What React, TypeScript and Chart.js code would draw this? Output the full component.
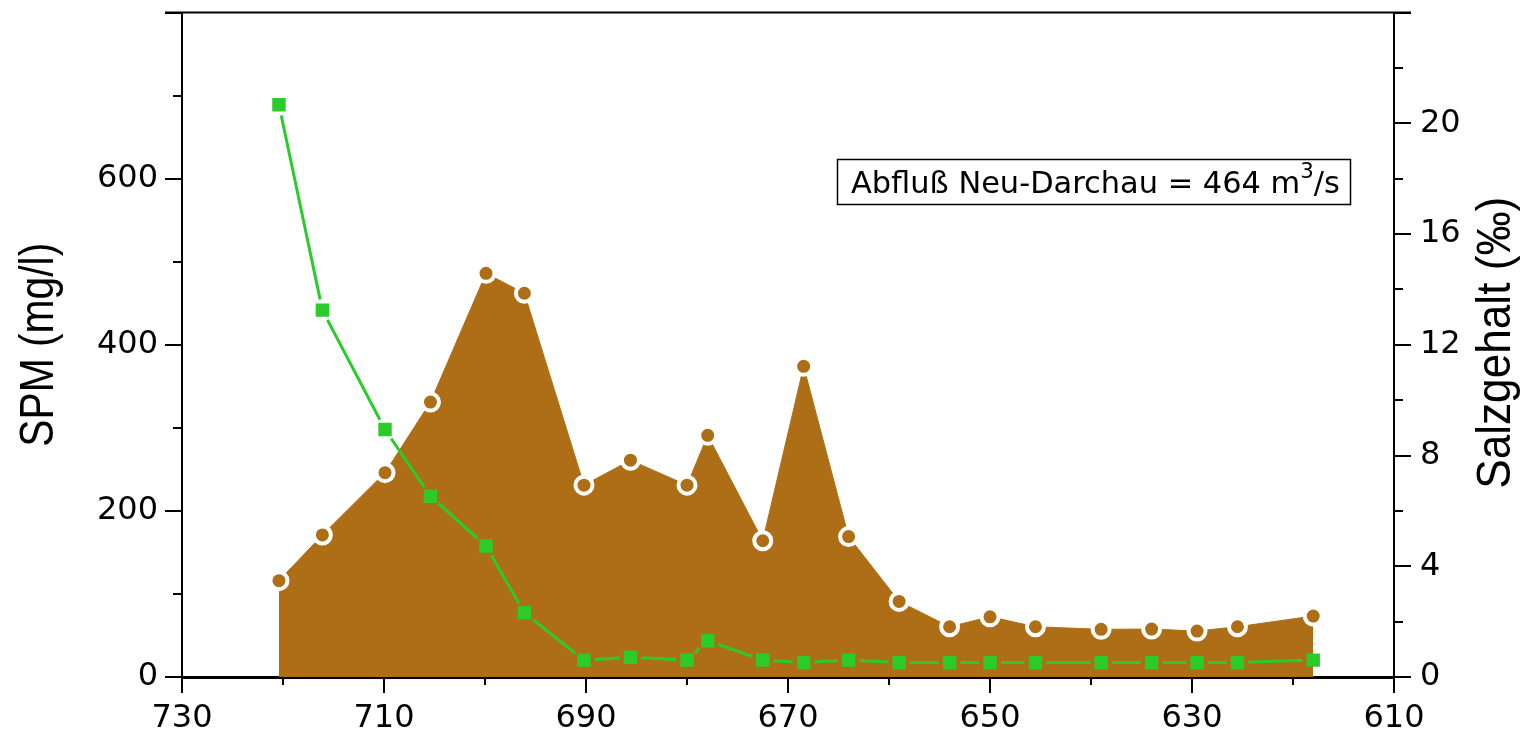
import React, { useEffect, useRef } from 'react';
import { Chart, registerables } from 'chart.js';

Chart.register(...registerables);

// Elbe-Kilometer (x), SPM (mg/l, left axis), Salzgehalt (‰, right axis)
const km = [720.4, 716.1, 709.9, 705.4, 699.9, 696.1, 690.2, 685.6, 680.0, 677.95, 672.5, 668.45, 664.0, 659.0, 654.0, 650.0, 645.5, 639.0, 634.0, 629.5, 625.5, 618.0];
const spm = [116, 171, 246, 331, 486, 462, 231, 261, 231, 291, 164, 374, 169, 91, 60.5, 72.5, 60.5, 57.4, 57.7, 55.3, 60.5, 73.4];
const salinity = [20.67, 13.25, 8.94, 6.53, 4.73, 2.32, 0.61, 0.71, 0.61, 1.31, 0.61, 0.52, 0.61, 0.52, 0.52, 0.52, 0.52, 0.52, 0.52, 0.52, 0.52, 0.61];

const xTickLabels = [730, 710, 690, 670, 650, 630, 610];
const leftTickLabels = [0, 200, 400, 600];
const rightTickLabels = [0, 4, 8, 12, 16, 20];

const leftTitle = 'SPM (mg/l)';
const rightTitle = 'Salzgehalt (‰)';
const noteMain = 'Abfluß Neu-Darchau = 464 m';
const noteSup = '3';
const noteEnd = '/s';

const BROWN = '#AE6E16';
const GREEN = '#2BCB2B';
const TICK_FONT = '"DejaVu Sans", sans-serif';
const TITLE_FONT = '"Liberation Sans", sans-serif';

const decorPlugin = {
  id: 'decor',
  beforeDatasetDraw(chart: any, args: any) {
    const ds = chart.data.datasets[args.index];
    if (ds.label !== 'salLine') return;
    const ptsIdx = chart.data.datasets.findIndex((d: any) => d.label === 'salPoints');
    const meta = chart.getDatasetMeta(ptsIdx);
    const ctx = chart.ctx;
    ctx.save();
    ctx.beginPath();
    ctx.rect(0, 0, chart.width, chart.height);
    const r = 11;
    meta.data.forEach((p: any) => {
      ctx.moveTo(p.x + r, p.y);
      ctx.arc(p.x, p.y, r, 0, Math.PI * 2);
    });
    ctx.clip('evenodd');
  },
  afterDatasetDraw(chart: any, args: any) {
    const ds = chart.data.datasets[args.index];
    if (ds.label !== 'salLine') return;
    chart.ctx.restore();
  },
  afterDraw(chart: any) {
    const ctx = chart.ctx;
    const xs = chart.scales.x;
    const ys = chart.scales.y;
    const y2 = chart.scales.y2;
    const area = chart.chartArea;
    ctx.save();
    ctx.strokeStyle = '#000';
    ctx.lineWidth = 2;
    ctx.lineCap = 'butt';
    // left ticks
    for (let v = ys.min; v <= ys.max; v += 100) {
      const py = Math.round(ys.getPixelForValue(v));
      const len = v % 200 === 0 ? 17 : 9;
      ctx.beginPath();
      ctx.moveTo(area.left - len, py);
      ctx.lineTo(area.left, py);
      ctx.stroke();
    }
    // right ticks
    for (let v = y2.min; v <= y2.max; v += 2) {
      const py = Math.round(y2.getPixelForValue(v));
      const len = v % 4 === 0 ? 17 : 9;
      ctx.beginPath();
      ctx.moveTo(area.right, py);
      ctx.lineTo(area.right + len, py);
      ctx.stroke();
    }
    // x ticks
    for (let v = xs.min; v <= xs.max; v += 10) {
      const px = Math.round(xs.getPixelForValue(v));
      const len = (xs.max - v) % 20 === 0 ? 16 : 8;
      ctx.beginPath();
      ctx.moveTo(px, area.bottom);
      ctx.lineTo(px, area.bottom + len);
      ctx.stroke();
    }
    // top frame line
    ctx.beginPath();
    ctx.moveTo(area.left - 17, area.top);
    ctx.lineTo(area.right + 17, area.top);
    ctx.stroke();

    // axis titles (narrow look)
    ctx.fillStyle = '#000';
    ctx.textAlign = 'center';
    ctx.textBaseline = 'middle';
    ctx.font = `48px ${TITLE_FONT}`;
    const midY = (area.top + area.bottom) / 2;
    ctx.save();
    ctx.translate(40, midY);
    ctx.rotate(-Math.PI / 2);
    ctx.scale(0.85, 1);
    ctx.fillText(leftTitle, 0, 0);
    ctx.restore();
    ctx.save();
    ctx.translate(1497, midY - 2);
    ctx.rotate(-Math.PI / 2);
    ctx.scale(0.92, 1);
    ctx.fillText(rightTitle, 0, 0);
    ctx.restore();

    // annotation box
    const bx = 837.5, by = 159.5, bw = 513, bh = 45;
    ctx.lineWidth = 1.5;
    ctx.strokeRect(bx, by, bw, bh);
    const target = 489;
    let fs = 28;
    const measure = (s: number) => {
      ctx.font = `${s}px ${TICK_FONT}`;
      const a = ctx.measureText(noteMain).width;
      const c = ctx.measureText(noteEnd).width;
      ctx.font = `${s * 0.7}px ${TICK_FONT}`;
      const b = ctx.measureText(noteSup).width;
      return a + b + c;
    };
    fs = fs * target / measure(fs);
    ctx.textAlign = 'left';
    ctx.textBaseline = 'alphabetic';
    const baseY = 193;
    let tx = 851;
    ctx.font = `${fs}px ${TICK_FONT}`;
    ctx.fillText(noteMain, tx, baseY);
    tx += ctx.measureText(noteMain).width;
    ctx.font = `${fs * 0.7}px ${TICK_FONT}`;
    ctx.fillText(noteSup, tx, baseY - fs * 0.5);
    tx += ctx.measureText(noteSup).width;
    ctx.font = `${fs}px ${TICK_FONT}`;
    ctx.fillText(noteEnd, tx, baseY);
    ctx.restore();
  },
};

const zeroPad = (s: any, w?: number, h?: number) => {
  if (w !== undefined) s.width = w;
  if (h !== undefined) s.height = h;
  s.paddingTop = 0;
  s.paddingBottom = 0;
  s.paddingLeft = 0;
  s.paddingRight = 0;
};

export default function App() {
  const ref = useRef<HTMLCanvasElement | null>(null);
  useEffect(() => {
    if (!ref.current) return;
    const spmData = km.map((x, i) => ({ x, y: spm[i] }));
    const salData = km.map((x, i) => ({ x, y: salinity[i] }));
    const tickFont = { family: TICK_FONT, size: 32 };
    const chart = new Chart(ref.current, {
      type: 'line',
      data: {
        datasets: [
          {
            label: 'salPoints',
            data: salData,
            yAxisID: 'y2',
            showLine: false,
            pointStyle: 'rect',
            pointRadius: 9.5,
            pointBackgroundColor: GREEN,
            pointBorderWidth: 0,
            borderColor: GREEN,
            backgroundColor: GREEN,
            order: 0,
          },
          {
            label: 'salLine',
            data: salData,
            yAxisID: 'y2',
            borderColor: GREEN,
            borderWidth: 3,
            pointRadius: 0,
            fill: false,
            tension: 0,
            order: 1,
          },
          {
            label: 'spm',
            data: spmData,
            yAxisID: 'y',
            borderColor: BROWN,
            borderWidth: 1,
            backgroundColor: BROWN,
            fill: 'origin',
            tension: 0,
            pointRadius: 8.5,
            pointBackgroundColor: BROWN,
            pointBorderColor: '#FFFFFF',
            pointBorderWidth: 4,
            order: 2,
          },
        ],
      },
      options: {
        animation: false,
        responsive: false,
        devicePixelRatio: 1,
        layout: { padding: { top: 12, left: 0, right: 0, bottom: 0 } },
        plugins: {
          legend: { display: false },
          tooltip: { enabled: false },
          title: { display: false },
        },
        scales: {
          x: {
            type: 'linear',
            reverse: true,
            min: 610,
            max: 730,
            z: 1,
            afterFit: (s: any) => zeroPad(s, undefined, 55),
            grid: { display: true, drawOnChartArea: false, drawTicks: true, tickLength: 16, color: 'rgba(0,0,0,0)' },
            border: { display: true, color: '#000', width: 3 },
            ticks: {
              stepSize: 10,
              autoSkip: false,
              maxRotation: 0,
              padding: 6,
              color: '#000',
              font: tickFont,
              callback: (v: any) => (xTickLabels.includes(Number(v)) ? String(v) : ''),
            },
          },
          y: {
            type: 'linear',
            position: 'left',
            min: 0,
            max: 800,
            z: 1,
            afterFit: (s: any) => zeroPad(s, 182),
            grid: { display: true, drawOnChartArea: false, drawTicks: true, tickLength: 17, color: 'rgba(0,0,0,0)' },
            border: { display: true, color: '#000', width: 2 },
            ticks: {
              stepSize: 100,
              autoSkip: false,
              padding: 7,
              color: '#000',
              font: tickFont,
              callback: (v: any) => (leftTickLabels.includes(Number(v)) ? String(v) : ''),
            },
          },
          y2: {
            type: 'linear',
            position: 'right',
            min: 0,
            max: 24,
            z: 1,
            afterFit: (s: any) => zeroPad(s, 134),
            grid: { display: true, drawOnChartArea: false, drawTicks: true, tickLength: 17, color: 'rgba(0,0,0,0)' },
            border: { display: true, color: '#000', width: 2 },
            ticks: {
              stepSize: 2,
              autoSkip: false,
              padding: 9,
              color: '#000',
              font: tickFont,
              callback: (v: any) => (rightTickLabels.includes(Number(v)) ? String(v) : ''),
            },
          },
        },
      },
      plugins: [decorPlugin],
    } as any);
    return () => chart.destroy();
  }, []);
  return (
    <div style={{ position: 'fixed', left: 0, top: 0, width: 1528, height: 732, background: '#fff' }}>
      <canvas ref={ref} width={1528} height={732} style={{ width: 1528, height: 732, display: 'block' }} />
    </div>
  );
}
